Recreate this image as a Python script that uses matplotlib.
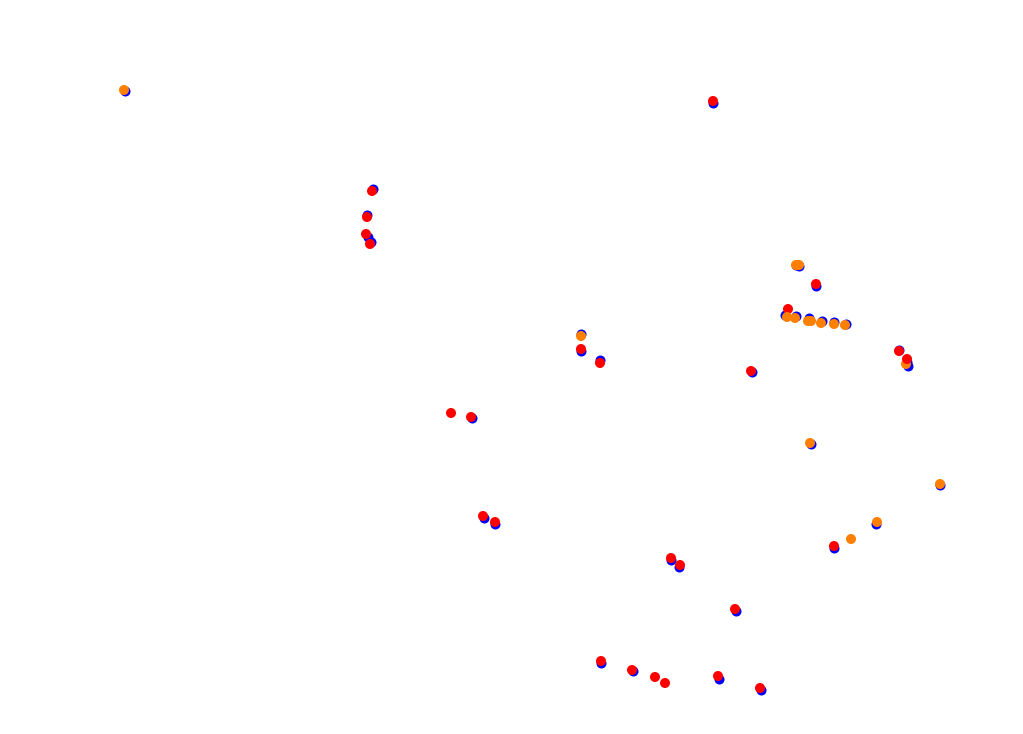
import matplotlib
matplotlib.use("Agg")
import matplotlib.pyplot as plt

# Reference positions (blue)
blue_x = [125, 713, 373, 367, 368, 371, 581, 581, 600, 752, 472, 484, 495,
          671, 679, 736, 601, 633, 719, 761, 811, 940, 876, 834,
          796, 799, 816, 785, 796, 809, 822, 834, 846, 899, 907, 908]
blue_y = [91, 103, 189, 215, 237, 242, 334, 351, 360, 372, 418, 518, 524,
          560, 567, 611, 663, 671, 679, 690, 444, 485, 524, 548,
          265, 266, 286, 315, 316, 318, 321, 322, 324, 350, 362, 366]

# Compared positions (coloured by category)
pt_x = [124, 713, 372, 367, 366, 370, 581, 581, 600, 751, 451, 471, 483, 495,
        671, 680, 735, 601, 632, 655, 665, 718, 760, 810, 940, 877, 851, 834,
        796, 799, 816, 788, 787, 795, 808, 811, 821, 834, 845, 899, 906, 907]
pt_y = [90, 101, 191, 217, 234, 244, 336, 349, 363, 371, 413, 417, 516, 522,
        558, 565, 609, 661, 670, 677, 683, 676, 688, 443, 484, 522, 539, 546,
        265, 265, 284, 309, 317, 318, 321, 321, 323, 324, 325, 351, 364, 359]
pt_c = ["#ff8000", "red", "red", "red", "red", "red", "#ff8000", "red", "red", "red",
        "red", "red", "red", "red",
        "red", "red", "red", "red", "red", "red", "red", "red", "red",
        "#ff8000", "#ff8000", "#ff8000", "#ff8000", "red",
        "#ff8000", "#ff8000", "red", "red", "#ff8000", "#ff8000", "#ff8000", "#ff8000",
        "#ff8000", "#ff8000", "#ff8000", "red", "#ff8000", "red"]

fig = plt.figure(figsize=(10.23, 7.34), dpi=100)
ax = fig.add_axes([0, 0, 1, 1])
ax.scatter(blue_x, blue_y, s=52, c="blue", linewidths=0, zorder=2)
ax.scatter(pt_x, pt_y, s=52, c=pt_c, linewidths=0, zorder=3)
ax.set_xlim(0, 1023)
ax.set_ylim(734, 0)
ax.axis("off")
fig.savefig("out.png", dpi=100, facecolor="white")
